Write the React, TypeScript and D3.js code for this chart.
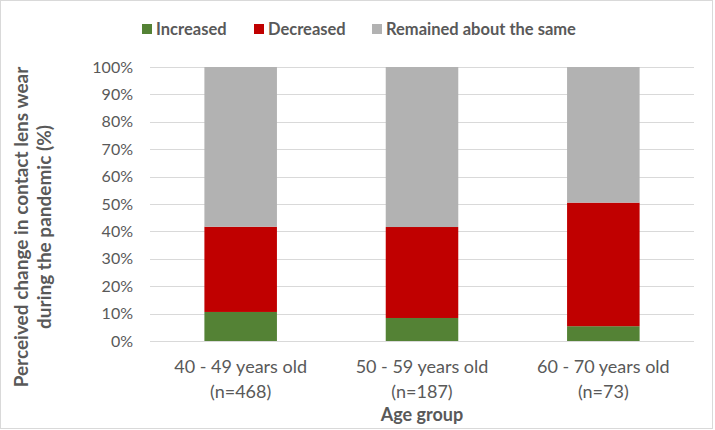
import React, { useRef, useEffect } from 'react';
import * as d3 from 'd3';

const groups = ['40 - 49 years old', '50 - 59 years old', '60 - 70 years old'];
const groupN = ['(n=468)', '(n=187)', '(n=73)'];
const seriesNames = ['Increased', 'Decreased', 'Remained about the same'];
const seriesColors = ['#548235', '#C00000', '#B2B2B2'];
const increased = [10.6, 8.4, 5.4];
const decreased = [31.1, 33.2, 45.1];
const remained = [58.3, 58.4, 49.5];
const yTicks = [0, 10, 20, 30, 40, 50, 60, 70, 80, 90, 100];

const FONT = 'Lato, "Open Sans", sans-serif';

const App = () => {
  const svgRef = useRef<SVGSVGElement>(null);

  useEffect(() => {
    const width = 715;
    const height = 430;
    const margin = { top: 67, right: 21, bottom: 89, left: 150 };

    const svg = d3.select(svgRef.current);
    svg.selectAll('*').remove();
    svg.attr('width', width).attr('height', height);

    // chart border
    svg.append('rect')
      .attr('x', 0.5).attr('y', 0.5)
      .attr('width', width - 3).attr('height', height - 2)
      .attr('fill', '#fff')
      .attr('stroke', '#d9d9d9');

    const x = d3.scaleBand()
      .domain(groups)
      .range([margin.left, width - margin.right])
      .paddingInner(0.6)
      .paddingOuter(0.3);

    const y = d3.scaleLinear()
      .domain([0, 100])
      .range([height - margin.bottom, margin.top]);

    // gridlines
    svg.append('g')
      .selectAll('line')
      .data(yTicks)
      .enter()
      .append('line')
      .attr('x1', margin.left)
      .attr('x2', width - margin.right)
      .attr('y1', d => Math.round(y(d)) + 0.5)
      .attr('y2', d => Math.round(y(d)) + 0.5)
      .attr('stroke', '#d9d9d9')
      .attr('stroke-width', 1);

    // y tick labels
    svg.append('g')
      .selectAll('text')
      .data(yTicks)
      .enter()
      .append('text')
      .attr('x', 133)
      .attr('y', d => y(d))
      .attr('dy', '0.35em')
      .attr('text-anchor', 'end')
      .attr('fill', '#595959')
      .style('font-family', FONT)
      .style('font-size', '16px')
      .text(d => `${d}%`);

    // stacked bars
    const table = groups.map((g, i) => ({
      group: g,
      Increased: increased[i],
      Decreased: decreased[i],
      'Remained about the same': remained[i],
    }));
    const stack = d3.stack<any>().keys(seriesNames);
    const layers = stack(table);

    svg.append('g')
      .selectAll('g')
      .data(layers)
      .enter()
      .append('g')
      .attr('fill', (d, i) => seriesColors[i])
      .selectAll('rect')
      .data(d => d)
      .enter()
      .append('rect')
      .attr('x', d => x(d.data.group)!)
      .attr('width', x.bandwidth())
      .attr('y', d => y(d[1]))
      .attr('height', d => y(d[0]) - y(d[1]));

    // x tick labels
    const xl = svg.append('g')
      .selectAll('text')
      .data(groups)
      .enter()
      .append('text')
      .attr('text-anchor', 'middle')
      .attr('fill', '#595959')
      .style('font-family', FONT)
      .style('font-size', '18px');
    xl.append('tspan')
      .attr('x', d => x(d)! + x.bandwidth() / 2)
      .attr('y', 373)
      .text(d => d);
    xl.append('tspan')
      .attr('x', d => x(d)! + x.bandwidth() / 2)
      .attr('y', 398)
      .text((d, i) => groupN[i]);

    // x axis title
    svg.append('text')
      .attr('x', (margin.left + width - margin.right) / 2)
      .attr('y', 421)
      .attr('text-anchor', 'middle')
      .attr('fill', '#595959')
      .style('font-family', FONT)
      .style('font-size', '18px')
      .style('font-weight', 'bold')
      .text('Age group');

    // y axis title
    const yt = svg.append('text')
      .attr('transform', 'translate(0,227) rotate(-90)')
      .attr('text-anchor', 'middle')
      .attr('fill', '#595959')
      .style('font-family', FONT)
      .style('font-size', '19px')
      .style('font-weight', 'bold');
    yt.append('tspan').attr('x', 0).attr('y', 28).text('Perceived change in contact lens wear');
    yt.append('tspan').attr('x', 0).attr('y', 51).text('during the pandemic (%)');

    // legend
    const legendX = [142, 254, 372];
    const lg = svg.append('g')
      .selectAll('g')
      .data(seriesNames)
      .enter()
      .append('g')
      .attr('transform', (d, i) => `translate(${legendX[i]},29)`);
    lg.append('rect')
      .attr('x', 0).attr('y', -5)
      .attr('width', 10).attr('height', 10)
      .attr('fill', (d, i) => seriesColors[i]);
    lg.append('text')
      .attr('x', 14)
      .attr('dy', '0.35em')
      .attr('fill', '#595959')
      .style('font-family', FONT)
      .style('font-size', '16.5px')
      .style('font-weight', 'bold')
      .text(d => d);
  }, []);

  return (
    <svg ref={svgRef} style={{ position: 'absolute', left: 0, top: 0 }}></svg>
  );
};

export default App;
